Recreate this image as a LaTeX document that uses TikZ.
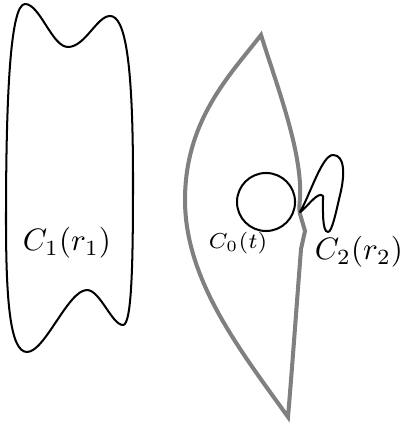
\documentclass[tikz,border=0pt]{standalone}
\begin{document}
\begin{tikzpicture}[x=0.3226pt, y=-0.3226pt,
  blackcurve/.style={draw=black, line width=0.65pt, line join=round},
  graycurve/.style={draw=gray, line width=1.3pt, line join=miter},
  lab/.style={inner sep=0pt}]
\useasboundingbox (0,0) rectangle (401,426);
% C1
\path[blackcurve] (25,4) .. controls (40,4) and (52,47) .. (68,47)
  .. controls (85,47) and (97,16) .. (110,16)
  .. controls (125,16) and (133,60) .. (133,180)
  .. controls (133,260) and (132,325) .. (123,325)
  .. controls (112,325) and (100,290) .. (87,290)
  .. controls (68,290) and (45,352) .. (27,352)
  .. controls (10,352) and (6,300) .. (6,220)
  .. controls (6,100) and (10,4) .. (25,4) -- cycle;
% gray region
\path[graycurve] (261,35) .. controls (275,80) and (298,140) .. (300,185)
  .. controls (301,200) and (298,208) .. (300,214)
  -- (305,231) -- (301,249)
  .. controls (297,300) and (292,370) .. (288,417)
  .. controls (240,350) and (185,280) .. (185,200)
  .. controls (185,120) and (230,75) .. (261,35) -- cycle;
% C0 circle
\path[blackcurve] (266,202) circle[radius=9.36pt];
% C2
\path[blackcurve] (300,212) .. controls (310,195) and (322,155) .. (333,155)
  .. controls (345,155) and (345,175) .. (340,195)
  .. controls (336,212) and (332,232) .. (328,232)
  .. controls (322,232) and (323,210) .. (323,196)
  .. controls (318,190) and (305,210) .. (300,212) -- cycle;
% labels
\node[lab] (l1) at (67,243) {$C_1(r_1)$};
\node[lab] (l0) at (238,243) {\scriptsize $C_0(t)$};
\node[lab] (l2) at (359,252) {$C_2(r_2)$};
\end{tikzpicture}
\end{document}
